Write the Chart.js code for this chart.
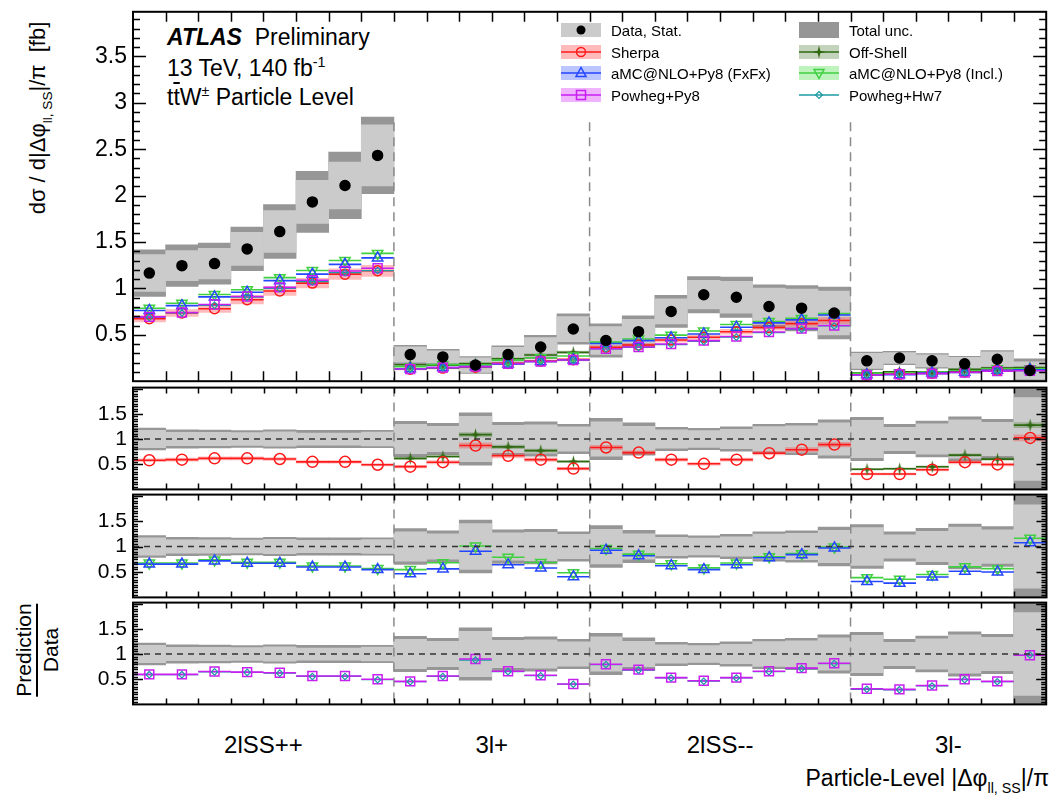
<!DOCTYPE html>
<html>
<head>
<meta charset="utf-8">
<title>ttW particle level |dphi_ll,SS|</title>
<script src="https://cdn.jsdelivr.net/npm/chart.js@4.4.1/dist/chart.umd.min.js"></script>
<style>
  body { margin: 0; background: #fff; font-family: "Liberation Sans", Arial, Helvetica, sans-serif; }
  #page { position: relative; width: 1054px; height: 803px; overflow: hidden; }
  #page canvas { position: absolute; left: 0; }
  .lbl { position: absolute; white-space: nowrap; color: #000; line-height: 1; }
  .rot { transform: translate(-50%, -50%) rotate(-90deg); }
  .ctr { transform: translate(-50%, -50%); }
  sub { font-size: 0.62em; vertical-align: -0.5em; line-height: 0; }
  sup { font-size: 0.62em; vertical-align: 0.6em; line-height: 0; }
  .ovl { text-decoration: overline; }
  .frac { display: inline-flex; flex-direction: column; align-items: center; font-size: 21px; }
  .frac span:first-child { border-bottom: 2px solid #000; padding-bottom: 2px; margin-bottom: 2px; }
  .leg { position: absolute; display: flex; align-items: center; font-size: 15px; white-space: nowrap; }
  .leg svg { margin-right: 9px; }
</style>
</head>
<body>
<div id="page">
  <div class="lbl" style="left:167px; top:26px; font-size:23px;"><b><i>ATLAS</i></b>&nbsp; Preliminary</div>
  <div class="lbl" style="left:167px; top:57px; font-size:23px;">13 TeV, 140 fb<sup>-1</sup></div>
  <div class="lbl" style="left:167px; top:86px; font-size:23px;">t<span class="ovl">t</span>W<sup>±</sup> Particle Level</div>

  <div class="lbl rot" style="left:38px; top:118px; font-size:22px;">dσ / d|Δφ<sub>ll, SS</sub>|/π &nbsp;[fb]</div>
  <div class="lbl rot" style="left:37px; top:650px;"><div class="frac"><span>Prediction</span><span>Data</span></div></div>

  <div class="lbl" style="right:5px; top:767px; font-size:23px;">Particle-Level |Δφ<sub>ll, SS</sub>|/π</div>
</div>

<script>
// channels and binning (bins of |dphi|/pi per channel)
const channels = ["2lSS++", "3l+", "2lSS--", "3l-"];
const binsPerChannel = [8, 6, 8, 6];

// measured cross-section per bin [fb]
const dataXsec = [1.165, 1.245, 1.267, 1.425, 1.612, 1.932, 2.109, 2.433,
                  0.287, 0.262, 0.174, 0.287, 0.368, 0.562,
                  0.439, 0.534, 0.752, 0.932, 0.904, 0.805, 0.787, 0.735,
                  0.219, 0.250, 0.219, 0.187, 0.237, 0.115];
// relative uncertainties of the data
const totUnc = [0.215, 0.18, 0.175, 0.165, 0.18, 0.17, 0.17, 0.17,
                0.35, 0.31, 0.52, 0.33, 0.34, 0.29,
                0.41, 0.32, 0.23, 0.21, 0.24, 0.29, 0.31, 0.38,
                0.43, 0.29, 0.355, 0.44, 0.39, 1.10];
const statUnc = [0.17, 0.13, 0.13, 0.125, 0.14, 0.12, 0.12, 0.135,
                 0.29, 0.25, 0.45, 0.27, 0.28, 0.24,
                 0.34, 0.25, 0.18, 0.165, 0.19, 0.245, 0.26, 0.32,
                 0.37, 0.23, 0.30, 0.38, 0.33, 0.82];

// prediction / data
const sherpaRatio = [0.578, 0.59, 0.616, 0.616, 0.603, 0.547, 0.547, 0.489,
                     0.451, 0.54, 0.87, 0.667, 0.59, 0.413,
                     0.832, 0.73, 0.59, 0.508, 0.59, 0.718, 0.788, 0.889,
                     0.305, 0.305, 0.39, 0.54, 0.495, 1.022];
const sherpaUnc = [0.05, 0.05, 0.05, 0.05, 0.05, 0.05, 0.05, 0.05,
                   0.06, 0.06, 0.06, 0.06, 0.06, 0.06,
                   0.05, 0.05, 0.05, 0.05, 0.05, 0.05, 0.05, 0.05,
                   0.06, 0.06, 0.06, 0.06, 0.06, 0.06];
const offShellRatio = [null, null, null, null, null, null, null, null,
                       0.616, 0.654, 1.086, 0.844, 0.769, 0.553,
                       null, null, null, null, null, null, null, null,
                       0.40, 0.41, 0.45, 0.68, 0.60, 1.276];
const offShellUnc = [null, null, null, null, null, null, null, null,
                     0.04, 0.04, 0.04, 0.04, 0.04, 0.04,
                     null, null, null, null, null, null, null, null,
                     0.04, 0.04, 0.04, 0.04, 0.04, 0.04];
const fxfxRatio = [0.654, 0.654, 0.717, 0.672, 0.672, 0.597, 0.597, 0.546,
                   0.464, 0.56, 0.908, 0.642, 0.578, 0.407,
                   0.927, 0.818, 0.622, 0.546, 0.643, 0.78, 0.84, 0.971,
                   0.312, 0.28, 0.40, 0.515, 0.50, 1.073];
const inclRatio = [0.675, 0.675, 0.737, 0.692, 0.692, 0.617, 0.617, 0.566,
                   0.546, 0.68, 1.01, 0.79, 0.686, 0.483,
                   0.96, 0.85, 0.66, 0.58, 0.675, 0.80, 0.86, 0.99,
                   0.388, 0.356, 0.45, 0.60, 0.565, 1.161];
const pwgPy8Ratio = [0.595, 0.595, 0.652, 0.64, 0.627, 0.563, 0.563, 0.50,
                     0.457, 0.563, 0.90, 0.658, 0.577, 0.406,
                     0.798, 0.69, 0.532, 0.469, 0.532, 0.658, 0.72, 0.817,
                     0.311, 0.298, 0.374, 0.50, 0.457, 0.975];
const pwgHw7Ratio = [0.59, 0.59, 0.645, 0.635, 0.62, 0.555, 0.555, 0.49,
                     0.45, 0.555, 0.88, 0.65, 0.57, 0.40,
                     0.79, 0.68, 0.525, 0.46, 0.525, 0.65, 0.71, 0.81,
                     0.30, 0.29, 0.365, 0.49, 0.45, 0.98];

const mainTicks = [0.5, 1, 1.5, 2, 2.5, 3, 3.5];
const ratioTicks = [0.5, 1, 1.5];

// ---- styling / layout ----
const nBins = dataXsec.length;
const RED = "#ff1a1a", BLUE = "#2446ff", MAG = "#c81ef0", DKGREEN = "#2f6a12",
      GREEN = "#40d040", TEAL = "#1c9aa6";
const LIGHT = "#cbcbcb", DARK = "#969696";
const PANELS = [
  { id: "main", top: 8, bottom: 385 },
  { id: "r1", top: 385, bottom: 492 },
  { id: "r2", top: 492, bottom: 600 },
  { id: "r3", top: 600, bottom: 707 },
];
const PAD = 16;
const FRAME_LEFT = 133, FRAME_RIGHT = 1048;

const scaleBy = (r) => r.map((v, i) => (v == null ? null : v * dataXsec[i]));
const lo = (v, u) => v.map((x, i) => (x == null ? null : x * (1 - u[i])));
const hi = (v, u) => v.map((x, i) => (x == null ? null : x * (1 + u[i])));
const ones = dataXsec.map(() => 1);

function bandBars(low, high, color, order) {
  return {
    type: "bar",
    data: low.map((l, i) => (l == null ? null : { x: i + 0.5, y: [Math.max(l, -1), high[i]] })).filter(Boolean),
    backgroundColor: color, borderWidth: 0, grouped: false,
    barPercentage: 1, categoryPercentage: 1, order,
  };
}

function stepLine(vals, color, order, width) {
  const pts = [];
  vals.forEach((v, i) => {
    if (v == null) return;
    pts.push({ x: i, y: v }, { x: i + 1, y: v }, { x: i + 1, y: null });
  });
  return { type: "line", data: pts, borderColor: color, borderWidth: width || 1.6,
           pointRadius: 0, fill: false, spanGaps: false, tension: 0, order };
}

function markers(vals, style, color, radius, order, extra) {
  return Object.assign({
    type: "scatter",
    data: vals.map((v, i) => (v == null ? null : { x: i + 0.5, y: v })).filter(Boolean),
    pointStyle: style, pointRadius: radius, pointBorderColor: color,
    pointBackgroundColor: "rgba(0,0,0,0)", pointBorderWidth: 1.5, showLine: false, order,
  }, extra || {});
}

function starMarker(color, R, r) {
  const s = Math.ceil(2 * R + 2);
  const c = document.createElement("canvas");
  c.width = c.height = s;
  const g = c.getContext("2d");
  g.fillStyle = color;
  g.beginPath();
  for (let k = 0; k < 8; k++) {
    const ang = (k * Math.PI) / 4 - Math.PI / 2;
    const rr = k % 2 ? r : R;
    g.lineTo(s / 2 + rr * Math.cos(ang), s / 2 + rr * Math.sin(ang));
  }
  g.closePath();
  g.fill();
  return c;
}
const star = starMarker(DKGREEN, 6.5, 1.8);

// frame, inner ticks, channel separators, unity line
const decor = {
  id: "decor",
  afterDatasetsDraw(chart, args, o) {
    const { ctx, chartArea: a } = chart;
    const x = chart.scales.x, y = chart.scales.y;
    ctx.save();
    ctx.setLineDash([9, 6]);
    ctx.strokeStyle = "#8a8a8a";
    ctx.lineWidth = 1.5;
    let edge = 0;
    for (let c = 0; c < binsPerChannel.length - 1; c++) {
      edge += binsPerChannel[c];
      const px = x.getPixelForValue(edge);
      const top = o.dashTop != null ? y.getPixelForValue(o.dashTop) : a.top;
      ctx.beginPath(); ctx.moveTo(px, top); ctx.lineTo(px, a.bottom); ctx.stroke();
    }
    if (o.unity) {
      ctx.setLineDash([6, 5]);
      ctx.strokeStyle = "#333";
      const py = y.getPixelForValue(1);
      ctx.beginPath(); ctx.moveTo(a.left, py); ctx.lineTo(a.right, py); ctx.stroke();
    }
    ctx.setLineDash([]);
    ctx.strokeStyle = "#000";
    ctx.lineWidth = 1.5;
    ctx.beginPath();
    const n = Math.round(y.max / o.minor);
    for (let k = 1; k <= n; k++) {
      const v = k * o.minor;
      if (v >= y.max - 1e-9) break;
      const major = Math.abs(v / 0.5 - Math.round(v / 0.5)) < 1e-6;
      const len = major ? o.majorLen : o.minorLen;
      const py = Math.round(y.getPixelForValue(v)) + 0.5;
      ctx.moveTo(a.left, py); ctx.lineTo(a.left + len, py);
      ctx.moveTo(a.right, py); ctx.lineTo(a.right - len, py);
    }
    for (let i = 1; i < nBins; i++) {
      const px = Math.round(x.getPixelForValue(i)) + 0.5;
      ctx.moveTo(px, a.top); ctx.lineTo(px, a.top + o.xLen);
      ctx.moveTo(px, a.bottom); ctx.lineTo(px, a.bottom - o.xLen);
    }
    ctx.stroke();
    ctx.lineWidth = 2;
    ctx.strokeRect(a.left, a.top, a.width, a.height);
    ctx.restore();
  },
};

function makePanel(p, datasets, yMax, ticks, fontSize, deco) {
  const page = document.getElementById("page");
  const cv = document.createElement("canvas");
  cv.width = 1054;
  cv.height = p.bottom - p.top + 2 * PAD;
  cv.style.top = p.top - PAD + "px";
  page.appendChild(cv);
  return new Chart(cv, {
    type: "bar",
    data: { datasets },
    plugins: [decor],
    options: {
      responsive: false,
      animation: false,
      events: [],
      layout: { padding: { top: PAD, bottom: PAD, left: 0, right: 1054 - FRAME_RIGHT } },
      plugins: { legend: { display: false }, tooltip: { enabled: false }, decor: deco },
      scales: {
        x: { type: "linear", min: 0, max: nBins, offset: false, display: false, ticks: { stepSize: 1 } },
        y: {
          type: "linear", min: 0, max: yMax,
          grid: { display: false, drawTicks: false }, border: { display: false },
          afterBuildTicks: (s) => { s.ticks = ticks.map((v) => ({ value: v })); },
          afterFit: (s) => { s.width = FRAME_LEFT; },
          ticks: { callback: (v) => String(v), color: "#000", padding: 6,
                   font: { family: "Liberation Sans", size: fontSize } },
        },
      },
    },
  });
}

// ---- main panel ----
const mainChart = makePanel(PANELS[0], [
  bandBars(lo(dataXsec, totUnc), hi(dataXsec, totUnc), DARK, 40),
  bandBars(lo(dataXsec, statUnc), hi(dataXsec, statUnc), LIGHT, 39),
  bandBars(lo(scaleBy(sherpaRatio), sherpaUnc), hi(scaleBy(sherpaRatio), sherpaUnc), "rgba(255,60,60,0.35)", 30),
  bandBars(lo(scaleBy(offShellRatio), offShellUnc), hi(scaleBy(offShellRatio), offShellUnc), "rgba(60,110,30,0.3)", 30),
  stepLine(scaleBy(offShellRatio), DKGREEN, 20),
  stepLine(scaleBy(inclRatio), GREEN, 19),
  stepLine(scaleBy(sherpaRatio), RED, 18),
  stepLine(scaleBy(fxfxRatio), BLUE, 17),
  stepLine(scaleBy(pwgHw7Ratio), TEAL, 16, 1.2),
  stepLine(scaleBy(pwgPy8Ratio), MAG, 15),
  markers(scaleBy(offShellRatio), star, DKGREEN, 6, 10),
  markers(scaleBy(inclRatio), "triangle", GREEN, 6, 9, { pointRotation: 180 }),
  markers(scaleBy(sherpaRatio), "circle", RED, 5, 8),
  markers(scaleBy(fxfxRatio), "triangle", BLUE, 6, 7),
  markers(scaleBy(pwgPy8Ratio), "rect", MAG, 6.3, 6),
  markers(scaleBy(pwgHw7Ratio), "rectRot", TEAL, 3.2, 5, { pointBorderWidth: 1.2 }),
  markers(dataXsec, "circle", "#000", 5, 1, { pointBackgroundColor: "#000" }),
], 3.98, mainTicks, 23, { minor: 0.1, majorLen: 13, minorLen: 7, xLen: 10, dashTop: 2.79 });

// ---- ratio panels ----
const dataBands = () => [
  bandBars(lo(ones, totUnc), hi(ones, totUnc), DARK, 40),
  bandBars(lo(ones, statUnc), hi(ones, statUnc), LIGHT, 39),
];
const ratioDeco = { minor: 0.05, majorLen: 10, minorLen: 5, xLen: 6, unity: true };

makePanel(PANELS[1], [
  ...dataBands(),
  bandBars(lo(sherpaRatio, sherpaUnc), hi(sherpaRatio, sherpaUnc), "rgba(255,60,60,0.35)", 30),
  bandBars(lo(offShellRatio, offShellUnc), hi(offShellRatio, offShellUnc), "rgba(60,110,30,0.3)", 30),
  stepLine(offShellRatio, DKGREEN, 20),
  stepLine(sherpaRatio, RED, 18),
  markers(offShellRatio, star, DKGREEN, 6, 10),
  markers(sherpaRatio, "circle", RED, 5.5, 8),
], 2.02, ratioTicks, 21, ratioDeco);

makePanel(PANELS[2], [
  ...dataBands(),
  stepLine(inclRatio, GREEN, 19),
  stepLine(fxfxRatio, BLUE, 17),
  markers(inclRatio, "triangle", GREEN, 6, 9, { pointRotation: 180 }),
  markers(fxfxRatio, "triangle", BLUE, 6, 7),
], 2.02, ratioTicks, 21, ratioDeco);

makePanel(PANELS[3], [
  ...dataBands(),
  stepLine(pwgHw7Ratio, TEAL, 16, 1.2),
  stepLine(pwgPy8Ratio, MAG, 15),
  markers(pwgPy8Ratio, "rect", MAG, 6.3, 6),
  markers(pwgHw7Ratio, "rectRot", TEAL, 3.2, 5, { pointBorderWidth: 1.2 }),
], 2.02, ratioTicks, 21, ratioDeco);

// ---- channel labels under the x axis ----
(function () {
  const page = document.getElementById("page");
  const xs = mainChart.scales.x;
  let start = 0;
  channels.forEach((name, c) => {
    const mid = start + binsPerChannel[c] / 2;
    start += binsPerChannel[c];
    const d = document.createElement("div");
    d.className = "lbl ctr";
    d.style.fontSize = "24px";
    d.style.left = xs.getPixelForValue(mid) + "px";
    d.style.top = "745px";
    d.textContent = name;
    page.appendChild(d);
  });
})();

// ---- legend ----
function markerSvg(kind, color) {
  switch (kind) {
    case "dot": return `<circle cx="21" cy="9" r="4.5" fill="#000"/>`;
    case "circle": return `<circle cx="21" cy="9" r="4.5" fill="none" stroke="${color}" stroke-width="1.5"/>`;
    case "triUp": return `<polygon points="21,3.5 26,12.5 16,12.5" fill="none" stroke="${color}" stroke-width="1.5"/>`;
    case "triDown": return `<polygon points="21,14.5 26,5.5 16,5.5" fill="none" stroke="${color}" stroke-width="1.5"/>`;
    case "square": return `<rect x="16.5" y="4.5" width="9" height="9" fill="none" stroke="${color}" stroke-width="1.5"/>`;
    case "star": return `<polygon points="21,2.5 22.3,7.7 27.5,9 22.3,10.3 21,15.5 19.7,10.3 14.5,9 19.7,7.7" fill="${color}"/>`;
    case "diamond": return `<polygon points="21,5.5 24.5,9 21,12.5 17.5,9" fill="none" stroke="${color}" stroke-width="1.2"/>`;
    default: return "";
  }
}
const legendEntries = [
  { text: "Data, Stat.", col: 0, row: 0, box: LIGHT, boxH: 14, marker: "dot" },
  { text: "Sherpa", col: 0, row: 1, box: "rgba(255,60,60,0.35)", boxH: 14, line: RED, marker: "circle" },
  { text: "aMC@NLO+Py8 (FxFx)", col: 0, row: 2, box: "rgba(60,90,255,0.35)", boxH: 14, line: BLUE, marker: "triUp" },
  { text: "Powheg+Py8", col: 0, row: 3, box: "rgba(210,40,250,0.35)", boxH: 14, line: MAG, marker: "square" },
  { text: "Total unc.", col: 1, row: 0, box: DARK, boxH: 16 },
  { text: "Off-Shell", col: 1, row: 1, box: "rgba(60,110,30,0.3)", boxH: 14, line: DKGREEN, marker: "star" },
  { text: "aMC@NLO+Py8 (Incl.)", col: 1, row: 2, box: "rgba(70,220,70,0.35)", boxH: 14, line: GREEN, marker: "triDown" },
  { text: "Powheg+Hw7", col: 1, row: 3, line: TEAL, marker: "diamond" },
];
(function () {
  const page = document.getElementById("page");
  const colX = [560, 798], rowY = [30, 52, 73, 95];
  legendEntries.forEach((e) => {
    let svg = `<svg width="42" height="18" viewBox="0 0 42 18">`;
    if (e.box) svg += `<rect x="1" y="${9 - e.boxH / 2}" width="40" height="${e.boxH}" fill="${e.box}"/>`;
    if (e.line) svg += `<line x1="1" y1="9" x2="41" y2="9" stroke="${e.line}" stroke-width="1.6"/>`;
    if (e.marker) svg += markerSvg(e.marker, e.line);
    svg += `</svg>`;
    const d = document.createElement("div");
    d.className = "leg";
    d.style.left = colX[e.col] + "px";
    d.style.top = rowY[e.row] - 9 + "px";
    d.innerHTML = svg + `<span>${e.text}</span>`;
    page.appendChild(d);
  });
})();
</script>
</body>
</html>
